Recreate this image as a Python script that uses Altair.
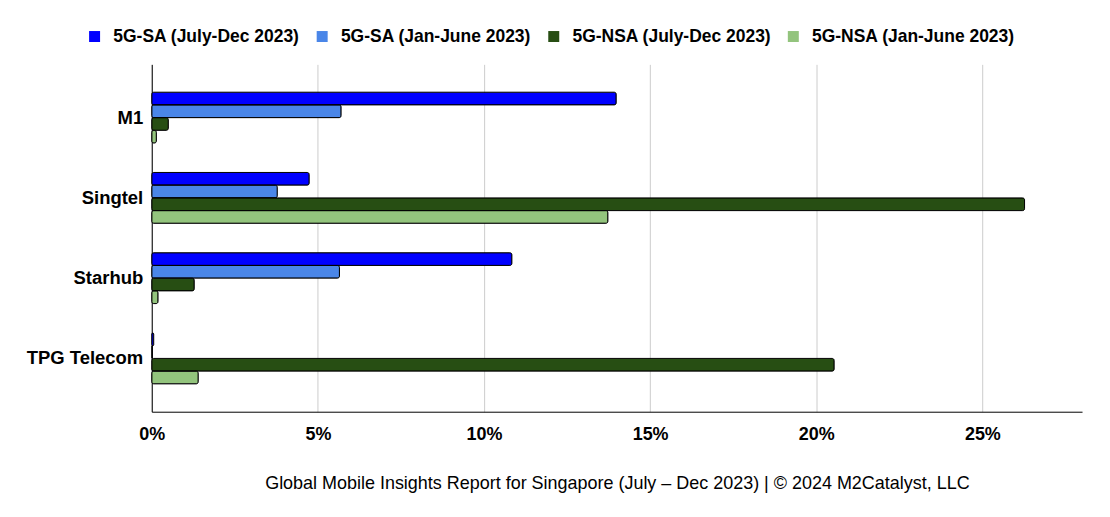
import altair as alt
import pandas as pd

operators = ["M1", "Singtel", "Starhub", "TPG Telecom"]
series = [
    "5G-SA (July-Dec 2023)",
    "5G-SA (Jan-June 2023)",
    "5G-NSA (July-Dec 2023)",
    "5G-NSA (Jan-June 2023)",
]
sa_jul_dec = [13.98, 4.74, 10.84, 0.06]
sa_jan_jun = [5.70, 3.78, 5.65, 0.02]
nsa_jul_dec = [0.50, 26.27, 1.28, 20.54]
nsa_jan_jun = [0.14, 13.73, 0.19, 1.40]
colors = ["#0000ff", "#4a86e8", "#274e13", "#93c47d"]
x_ticks = [0, 5, 10, 15, 20, 25]
caption = "Global Mobile Insights Report for Singapore (July \u2013 Dec 2023) | \u00a9 2024 M2Catalyst, LLC"

rows = []
for s, vals in zip(series, [sa_jul_dec, sa_jan_jun, nsa_jul_dec, nsa_jan_jun]):
    for op, v in zip(operators, vals):
        rows.append({"operator": op, "series": s, "value": v})
df = pd.DataFrame(rows)

FONT = "Liberation Sans"

chart = (
    alt.Chart(df)
    .mark_bar(stroke="black", strokeWidth=1, cornerRadius=2)
    .encode(
        x=alt.X(
            "value:Q",
            scale=alt.Scale(domain=[0, 28], nice=False),
            axis=alt.Axis(
                values=x_ticks,
                labelExpr="datum.value + '%'",
                labelFlush=False,
                title=caption,
                titleFont=FONT,
                titleFontSize=18,
                titleFontWeight="normal",
                titleColor="#000000",
                titlePadding=31,
                labelFont=FONT,
                labelFontSize=18,
                labelFontWeight="bold",
                labelColor="#000000",
                labelPadding=14,
                ticks=False,
                grid=True,
                gridColor="#cccccc",
                gridWidth=1,
                domainColor="#000000",
                domainWidth=1,
            ),
        ),
        y=alt.Y(
            "operator:N",
            sort=operators,
            scale=alt.Scale(paddingInner=0.366, paddingOuter=0.347),
            axis=alt.Axis(
                title=None,
                labelFont=FONT,
                labelFontSize=18.5,
                labelFontWeight="bold",
                labelColor="#000000",
                labelPadding=9,
                ticks=False,
                grid=False,
                domainColor="#000000",
                domainWidth=1,
            ),
        ),
        yOffset=alt.YOffset(
            "series:N", sort=series, scale=alt.Scale(paddingInner=0, paddingOuter=0)
        ),
        color=alt.Color(
            "series:N",
            sort=series,
            scale=alt.Scale(domain=series, range=colors),
            legend=alt.Legend(
                title=None,
                orient="none",
                legendX=-66,
                legendY=-37,
                direction="horizontal",
                symbolType="square",
                symbolSize=121,
                symbolStrokeWidth=0,
                labelFont=FONT,
                labelFontSize=17.5,
                labelFontWeight="bold",
                labelColor="#000000",
                labelOffset=10,
                columnPadding=13,
                labelLimit=400,
            ),
        ),
    )
    .properties(
        width=932,
        height=348,
        background="white",
        autosize=alt.AutoSizeParams(type="none"),
        padding={"left": 144, "top": 56, "right": 20, "bottom": 90},
    )
    .configure_view(strokeWidth=0, stroke="transparent")
)

chart.save("out.html", embed_options={"renderer": "svg", "actions": False})
